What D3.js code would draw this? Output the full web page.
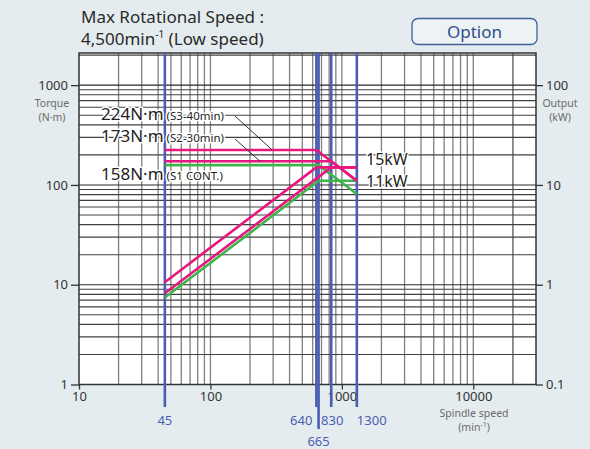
<!DOCTYPE html>
<html><head><meta charset="utf-8">
<script src="https://cdn.jsdelivr.net/npm/d3@7"></script>
<style>
html,body{margin:0;padding:0;background:#e5ecef;}
svg{display:block;font-family:"Noto Sans","Open Sans",sans-serif;}
</style></head>
<body>
<svg id="c" width="590" height="449"></svg>
<script>
// ---- data ----
const titleLines = ["Max Rotational Speed :", "4,500min", " (Low speed)"];
const xTickValues = [10, 100, 1000, 10000];
const yTickValues = [1, 10, 100, 1000];
const y2TickValues = [0.1, 1, 10, 100];
const speedMarks = [45, 640, 665, 830, 1300];

// S3-40min
const s3Speed = [45, 640, 1300];
const s3Torque = [224, 224, 110];
const s3Power = [1.06, 15, 15];
// S2-30min
const s2Speed = [45, 830, 1300];
const s2Torque = [173, 173, 110];
const s2Power = [0.82, 15, 15];
// S1 CONT.
const s1Speed = [45, 665, 1300];
const s1Torque = [158, 158, 81];
const s1Power = [0.745, 11, 11];

const torqueLabels = ["224N·m", "173N·m", "158N·m"];
const dutyLabels = ["(S3-40min)", "(S2-30min)", "(S1 CONT.)"];
const powerLabels = ["15kW", "11kW"];

// ---- layout ----
const L = 79, R = 536, T = 53, B = 384.5;
const svg = d3.select("#c");
const x = d3.scaleLog().domain([10, 30000]).range([L, R]);
const y = d3.scaleLog().domain([1, 2100]).range([B, T]);
const y2 = d3.scaleLog().domain([0.1, 210]).range([B, T]);

const PINK = "#e8177d", GREEN = "#3db54b", BLUE = "#4b5db3";

// title
const tg = svg.append("g").attr("fill", "#2a2a2a").style("font-size", "17px");
tg.append("text").attr("x", 81).attr("y", 23).text(titleLines[0]);
const t2 = tg.append("text").attr("x", 81).attr("y", 45);
t2.append("tspan").text(titleLines[1]);
t2.append("tspan").attr("dy", -7).style("font-size", "10px").text("-1");
t2.append("tspan").attr("dy", 7).text(titleLines[2]);

// option box
svg.append("rect").attr("x", 412).attr("y", 18.5).attr("width", 125).attr("height", 26)
  .attr("rx", 6).attr("fill", "#edf2f4").attr("stroke", "#3e5f9c").attr("stroke-width", 1.3);
svg.append("text").attr("x", 474.5).attr("y", 37.5).attr("text-anchor", "middle")
  .attr("fill", "#2d4f8c").style("font-size", "17px").text("Option");

// plot background
svg.append("rect").attr("x", L).attr("y", T).attr("width", R - L).attr("height", B - T).attr("fill", "#fff");

// grid
const xGrid = [];
for (let d = 10; d <= 10000; d *= 10) for (let k = 1; k <= 9; k++) { const v = d * k; if (v > 10 && v < 30000) xGrid.push(v); }
xGrid.push(20000);
const yGrid = [];
for (let d = 1; d <= 1000; d *= 10) for (let k = 1; k <= 9; k++) { const v = d * k; if (v > 1 && v < 2100) yGrid.push(v); }

svg.append("g").selectAll("line").data(xGrid).join("line")
  .attr("x1", d => x(d)).attr("x2", d => x(d)).attr("y1", T).attr("y2", B)
  .attr("stroke", "#808080").attr("stroke-width", 1.3);
svg.append("g").selectAll("line").data(yGrid).join("line")
  .attr("x1", L).attr("x2", R).attr("y1", d => y(d)).attr("y2", d => y(d))
  .attr("stroke", d => (Math.log10(d) % 1 === 0 ? "#2a2a2a" : "#404040")).attr("stroke-width", 1.1);

// border
svg.append("rect").attr("x", L).attr("y", T).attr("width", R - L).attr("height", B - T)
  .attr("fill", "none").attr("stroke", "#333").attr("stroke-width", 1.5);

// axes
const axStyle = g => {
  g.select(".domain").remove();
  g.selectAll(".tick line").attr("stroke", "#333").attr("stroke-width", 1.3);
  g.selectAll(".tick text").attr("fill", "#333").style("font-size", "13px").style("font-family", "'Noto Sans',sans-serif");
};
svg.append("g").attr("transform", `translate(${L},0)`)
  .call(d3.axisLeft(y).tickValues(yTickValues).tickFormat(d3.format("d")).tickSize(8).tickPadding(3)).call(axStyle);
svg.append("g").attr("transform", `translate(${R},0)`)
  .call(d3.axisRight(y2).tickValues(y2TickValues).tickFormat(d => d < 1 ? "0.1" : d3.format("d")(d)).tickSize(7).tickPadding(3)).call(axStyle);
svg.append("g").attr("transform", `translate(0,${B})`)
  .call(d3.axisBottom(x).tickValues(xTickValues).tickFormat(d3.format("d")).tickSize(5).tickPadding(2)).call(axStyle);

// axis titles
const at = svg.append("g").attr("fill", "#6a6a6a").style("font-size", "10.5px").attr("text-anchor", "middle");
at.append("text").attr("x", 52).attr("y", 107).text("Torque");
at.append("text").attr("x", 52).attr("y", 121).text("(N·m)");
at.append("text").attr("x", 560).attr("y", 107).text("Output");
at.append("text").attr("x", 560).attr("y", 121).text("(kW)");
at.append("text").attr("x", 474).attr("y", 417).text("Spindle speed");
const mt = at.append("text").attr("x", 474).attr("y", 430.5);
mt.append("tspan").text("(min");
mt.append("tspan").attr("dy", -4).style("font-size", "7px").text("-1");
mt.append("tspan").attr("dy", 4).text(")");

// blue speed lines
const markStyle = {45: {a: "middle", dx: 0, row: 0}, 640: {a: "end", dx: -4, row: 0}, 665: {a: "middle", dx: 0, row: 1},
  830: {a: "middle", dx: 1, row: 0}, 1300: {a: "start", dx: 0, row: 0}};
svg.append("g").selectAll("line").data(speedMarks).join("line")
  .attr("x1", d => x(d)).attr("x2", d => x(d)).attr("y1", T)
  .attr("y2", d => markStyle[d].row ? 429 : 407)
  .attr("stroke", BLUE).attr("stroke-width", 2.6);
svg.append("g").selectAll("text").data(speedMarks).join("text")
  .attr("x", d => x(d) + markStyle[d].dx).attr("y", d => markStyle[d].row ? 446 : 425)
  .attr("text-anchor", d => markStyle[d].a).attr("fill", "#4b5db3").style("font-size", "13px").text(d => d);

// curves
const lineT = d3.line().x(d => x(d[0])).y(d => y(d[1]));
const lineP = d3.line().x(d => x(d[0])).y(d => y2(d[1]));
const zip = (a, b) => a.map((v, i) => [v, b[i]]);
const curves = [
  {sp: s1Speed, t: s1Torque, p: s1Power, c: GREEN},
  {sp: s2Speed, t: s2Torque, p: s2Power, c: PINK},
  {sp: s3Speed, t: s3Torque, p: s3Power, c: PINK}
];
const cg = svg.append("g").attr("fill", "none").attr("stroke-width", 2.6);
curves.forEach(cv => {
  cg.append("path").attr("d", lineT(zip(cv.sp, cv.t))).attr("stroke", cv.c);
  cg.append("path").attr("d", lineP(zip(cv.sp, cv.p))).attr("stroke", cv.c);
});

// leader lines
const lg = svg.append("g").attr("stroke", "#333").attr("stroke-width", 1);
lg.append("line").attr("x1", 235).attr("y1", 116).attr("x2", x(295)).attr("y2", y(s3Torque[0]));
lg.append("line").attr("x1", 235).attr("y1", 139).attr("x2", x(238)).attr("y2", y(s2Torque[0]));

// labels
const halo = s => s.attr("stroke", "#fff").attr("stroke-width", 3).attr("paint-order", "stroke").attr("stroke-linejoin", "round");
const lblY = [120, 142, 180];
const lblG = svg.append("g").attr("fill", "#222");
torqueLabels.forEach((t, i) => {
  const tx = lblG.append("text").attr("x", 101).attr("y", lblY[i]).call(halo);
  tx.append("tspan").style("font-size", "17px").text(t);
  tx.append("tspan").attr("dx", 3).style("font-size", "11.5px").text(dutyLabels[i]);
});
powerLabels.forEach((t, i) => {
  lblG.append("text").attr("x", 366).attr("y", [165, 187][i]).style("font-size", "16px").call(halo).text(t);
});
</script>
</body></html>
